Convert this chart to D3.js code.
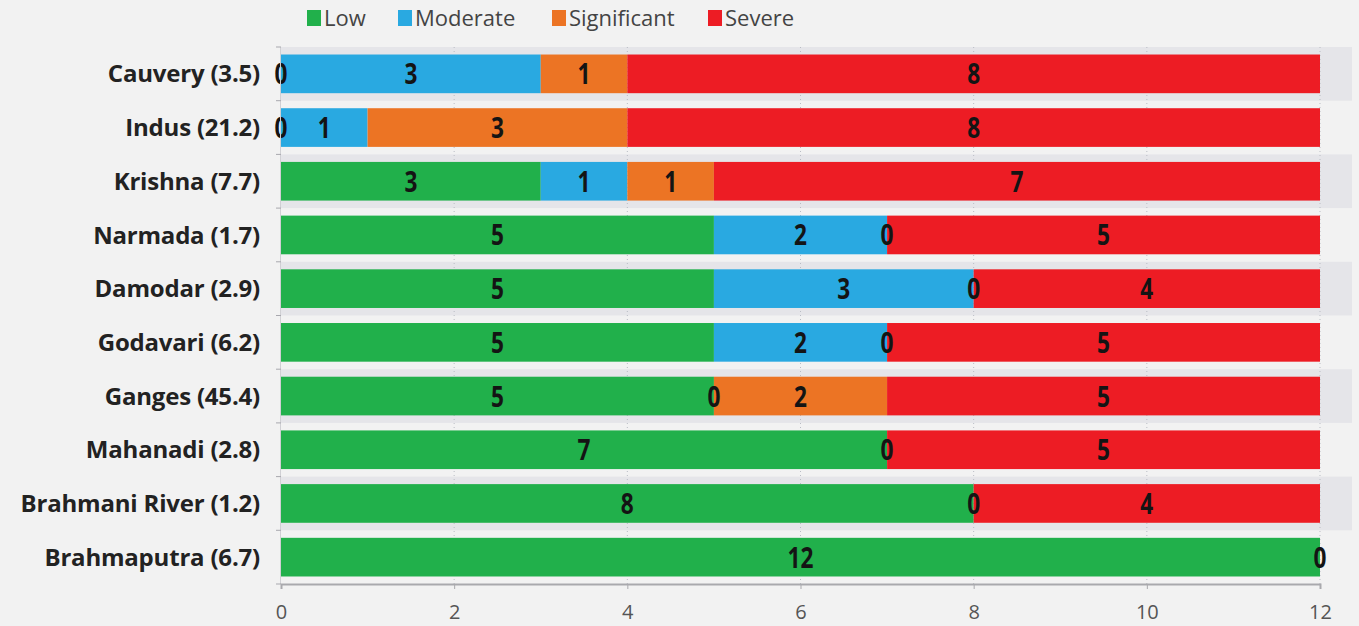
<!DOCTYPE html>
<html>
<head>
<meta charset="utf-8">
<script src="https://cdn.jsdelivr.net/npm/d3@7"></script>
<style>
  html, body { margin: 0; padding: 0; background: #f2f2f2; }
  svg { display: block; }
</style>
</head>
<body>
<svg id="chart" width="1359" height="626"></svg>
<script>
// River basins (with basin area figure) and number of sites in each stress class
const categories = [
  "Cauvery (3.5)", "Indus (21.2)", "Krishna (7.7)", "Narmada (1.7)", "Damodar (2.9)",
  "Godavari (6.2)", "Ganges (45.4)", "Mahanadi (2.8)", "Brahmani River (1.2)", "Brahmaputra (6.7)"
];
const seriesNames = ["Low", "Moderate", "Significant", "Severe"];
const seriesColors = ["#21b04b", "#29a9e1", "#ec7424", "#ed1c24"];
// null = no data label drawn
const lowValues         = [0, 0, 3, 5, 5, 5, 5, 7, 8, 12];
const moderateValues    = [3, 1, 1, 2, 3, 2, 0, null, null, null];
const significantValues = [1, 3, 1, 0, 0, 0, 2, 0, 0, null];
const severeValues      = [8, 8, 7, 5, 4, 5, 5, 5, 4, 0];
const xTicks = [0, 2, 4, 6, 8, 10, 12];

const seriesValues = [lowValues, moderateValues, significantValues, severeValues];

const svg = d3.select("#chart");
const margin = { top: 47, left: 281, right: 39, bottom: 42 };
const plotW = 1320 - margin.left;
const plotH = 584 - margin.top;

const x = d3.scaleLinear().domain([0, 12]).range([margin.left, margin.left + plotW]);
const y = d3.scaleBand().domain(categories).range([margin.top, margin.top + plotH]).paddingInner(0.28).paddingOuter(0.14);
const band = d3.scaleBand().domain(categories).range([margin.top, margin.top + plotH]);

// alternating row shading
svg.append("g").selectAll("rect")
  .data(categories.filter((d, i) => i % 2 === 0))
  .join("rect")
  .attr("x", margin.left)
  .attr("y", d => band(d))
  .attr("width", 1352 - margin.left)
  .attr("height", band.bandwidth())
  .attr("fill", "#e5e5e9");

// dotted vertical gridlines
svg.append("g").selectAll("line")
  .data(xTicks.slice(1))
  .join("line")
  .attr("x1", d => x(d)).attr("x2", d => x(d))
  .attr("y1", margin.top).attr("y2", margin.top + plotH)
  .attr("stroke", "#b9bcc4").attr("stroke-width", 1)
  .attr("stroke-dasharray", "1,3");

// stacked segments
const rows = categories.map((c, i) => {
  let acc = 0;
  return seriesValues.map((vals, s) => {
    const v = vals[i];
    const x0 = acc;
    acc += (v || 0);
    return { cat: c, s, v, x0, x1: acc };
  });
});
const segs = rows.flat();

svg.append("g").selectAll("rect")
  .data(segs.filter(d => d.v))
  .join("rect")
  .attr("x", d => x(d.x0))
  .attr("y", d => y(d.cat))
  .attr("width", d => x(d.x1) - x(d.x0))
  .attr("height", y.bandwidth())
  .attr("fill", d => seriesColors[d.s]);

// value labels (narrowed bold digits)
svg.append("g").selectAll("text")
  .data(segs.filter(d => d.v !== null))
  .join("text")
  .attr("transform", d => `translate(${(x(d.x0) + x(d.x1)) / 2},${y(d.cat) + y.bandwidth() / 2}) scale(0.78,1)`)
  .attr("dy", "0.36em")
  .attr("text-anchor", "middle")
  .attr("font-family", "'Open Sans', sans-serif")
  .attr("font-weight", 700)
  .attr("font-size", 29)
  .attr("fill", "#141414")
  .text(d => d.v);

// category axis (left)
const yAxisG = svg.append("g");
yAxisG.append("line")
  .attr("x1", margin.left - 0.5).attr("x2", margin.left - 0.5)
  .attr("y1", margin.top).attr("y2", margin.top + plotH)
  .attr("stroke", "#d0d0d4");
yAxisG.selectAll("line.tick")
  .data(categories.concat([null]))
  .join("line")
  .attr("class", "tick")
  .attr("x1", margin.left - 5).attr("x2", margin.left)
  .attr("y1", (d, i) => margin.top + i * band.bandwidth())
  .attr("y2", (d, i) => margin.top + i * band.bandwidth())
  .attr("stroke", "#a8a8ae");
yAxisG.selectAll("text")
  .data(categories)
  .join("text")
  .attr("x", 260)
  .attr("y", d => y(d) + y.bandwidth() / 2)
  .attr("dy", "0.36em")
  .attr("text-anchor", "end")
  .attr("font-family", "'Open Sans', sans-serif")
  .attr("font-weight", 700)
  .attr("font-size", 24)
  .attr("letter-spacing", "-0.2px")
  .attr("fill", "#222")
  .text(d => d);

// value axis (bottom)
const xAxis = d3.axisBottom(x).tickValues(xTicks).tickSize(5).tickPadding(16);
const xg = svg.append("g")
  .attr("transform", `translate(0,${margin.top + plotH})`)
  .call(xAxis);
xg.select(".domain").attr("stroke", "#a9a9ad").attr("stroke-width", 2);
xg.selectAll(".tick line").attr("stroke", "#a9a9ad");
xg.selectAll(".tick text")
  .attr("font-family", "'Open Sans', sans-serif")
  .attr("font-size", 20)
  .attr("fill", "#555");

// legend
const legendX = [307, 398, 552, 708];
const lg = svg.append("g").selectAll("g")
  .data(seriesNames)
  .join("g")
  .attr("transform", (d, i) => `translate(${legendX[i]},0)`);
lg.append("rect")
  .attr("x", 0).attr("y", 10).attr("width", 14).attr("height", 16)
  .attr("fill", (d, i) => seriesColors[i]);
lg.append("text")
  .attr("x", 17).attr("y", 26)
  .attr("font-family", "'Open Sans', sans-serif")
  .attr("font-size", 22)
  .attr("fill", "#444")
  .text(d => d);
</script>
</body>
</html>
